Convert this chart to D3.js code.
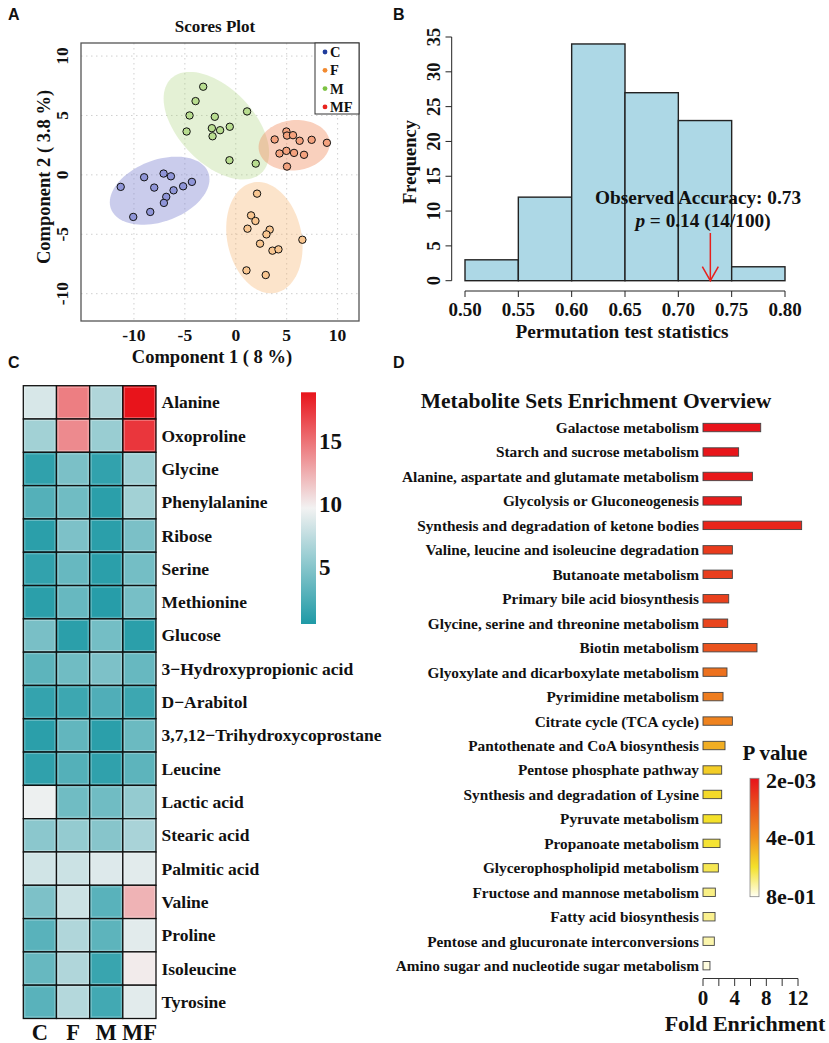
<!DOCTYPE html>
<html><head><meta charset="utf-8">
<script src="https://cdn.jsdelivr.net/npm/d3@7/dist/d3.min.js"></script>
<style>
body{margin:0;background:#fff;}
text{font-family:"Liberation Serif","Times New Roman",serif;font-weight:bold;fill:#111;}
.plab{font-family:"Liberation Sans",Arial,sans-serif;font-weight:bold;font-size:16px;}
</style></head>
<body><svg id="fig" width="829" height="1043"></svg>
<script>
// ---------- DATA ----------
const groupNames = ["C","F","M","MF"];
const pcaC = [[-11.3,-1.01],[-9.0,-0.2],[-7.09,0.11],[-6.37,-0.12],[-8.01,-1.07],[-5.17,-0.96],[-4.31,-0.59],[-6.11,-1.30],[-6.83,-1.85],[-7.06,-2.36],[-8.40,-3.12],[-10.07,-3.54]];
const pcaF = [[2.09,-1.58],[1.50,-3.41],[1.93,-3.88],[1.15,-4.53],[3.33,-4.61],[3.01,-5.01],[2.38,-5.79],[3.60,-6.38],[4.19,-6.27],[6.54,-5.46],[1.05,-8.04],[2.94,-8.43]];
const pcaM = [[-3.2,7.42],[-3.95,6.21],[-4.54,5.0],[-2.06,4.89],[1.11,5.34],[-4.83,3.65],[-2.35,3.93],[-1.54,3.76],[-0.59,4.05],[-2.28,3.25],[-0.62,1.23],[1.96,0.95]];
const pcaMF = [[3.82,2.98],[4.97,3.65],[5.03,3.31],[5.62,3.34],[6.27,2.87],[7.45,2.95],[8.95,2.70],[4.29,1.80],[4.97,2.02],[5.72,1.85],[6.70,1.69],[5.03,0.70]];
const pcaTicks = [-10,-5,0,5,10];

const histBreaks = [0.50,0.55,0.60,0.65,0.70,0.75,0.80];
const histCounts = [3,12,34,27,23,2];
const histYTicks = [0,5,10,15,20,25,30,35];
const observedAccuracy = 0.73;

const heatCols = ["C","F","M","MF"];
const heatRows = ["Alanine","Oxoproline","Glycine","Phenylalanine","Ribose","Serine","Methionine","Glucose","3\u2212Hydroxypropionic acid","D\u2212Arabitol","3,7,12\u2212Trihydroxycoprostane","Leucine","Lactic acid","Stearic acid","Palmitic acid","Valine","Proline","Isoleucine","Tyrosine"];
const heatValues = [
 [8.5,14.5,6.8,18.9],[6.2,14.0,5.8,17.5],[1.2,4.5,1.3,6.0],[2.8,4.0,1.0,6.2],[1.0,4.6,1.0,4.5],
 [1.3,3.6,1.0,4.2],[1.0,3.6,0.8,4.3],[4.4,1.0,4.2,1.0],[3.2,4.0,4.6,3.6],[1.4,1.8,2.6,1.8],
 [1.0,3.4,1.0,3.8],[1.2,2.8,1.2,3.2],[9.5,4.0,4.0,5.6],[5.2,5.6,5.0,6.5],[8.2,8.0,8.8,9.0],
 [4.6,8.0,3.0,12.3],[3.0,6.8,3.2,9.0],[3.6,6.8,1.6,10.0],[3.0,7.0,2.0,9.0]];
const heatTicks = [5,10,15];

const pathways = ["Galactose metabolism","Starch and sucrose metabolism","Alanine, aspartate and glutamate metabolism","Glycolysis or Gluconeogenesis","Synthesis and degradation of ketone bodies","Valine, leucine and isoleucine degradation","Butanoate metabolism","Primary bile acid biosynthesis","Glycine, serine and threonine metabolism","Biotin metabolism","Glyoxylate and dicarboxylate metabolism","Pyrimidine metabolism","Citrate cycle (TCA cycle)","Pantothenate and CoA biosynthesis","Pentose phosphate pathway","Synthesis and degradation of Lysine","Pyruvate metabolism","Propanoate metabolism","Glycerophospholipid metabolism","Fructose and mannose metabolism","Fatty acid biosynthesis","Pentose and glucuronate interconversions","Amino sugar and nucleotide sugar metabolism"];
const foldEnrichment = [7.29,4.5,6.24,4.85,12.46,3.71,3.71,3.25,3.12,6.82,3.03,2.53,3.71,2.78,2.36,2.36,2.36,2.15,1.94,1.56,1.52,1.43,0.88];
const pValues = [0.004,0.01,0.02,0.03,0.06,0.12,0.13,0.14,0.15,0.19,0.29,0.33,0.35,0.47,0.55,0.58,0.6,0.61,0.64,0.69,0.7,0.73,0.78];
const enrichTicks = [0,2,4,6,8,10,12];
const enrichTickLabels = [0,4,8,12];
const pLegendTicks = [[0.002,"2e-03"],[0.4,"4e-01"],[0.8,"8e-01"]];

// ---------- DRAW ----------
const svg = d3.select("#fig");
const defs = svg.append("defs");

[["A",8,20],["B",393,20],["C",8,368],["D",393,368]].forEach(([t,x,y])=>svg.append("text").attr("class","plab").attr("x",x).attr("y",y).text(t));

// ===== Panel A =====
(function(){
  const x = d3.scaleLinear().domain([-15.2,12.1]).range([81,359]);
  const y = d3.scaleLinear().domain([-12.3,11.1]).range([321,43]);
  const g = svg.append("g");
  defs.append("clipPath").attr("id","clipA").append("rect").attr("x",81).attr("y",43).attr("width",278).attr("height",278);
  pcaTicks.forEach(t=>{
    g.append("line").attr("x1",x(t)).attr("x2",x(t)).attr("y1",43).attr("y2",321).attr("stroke","#cfcfcf").attr("stroke-dasharray","1.5,3.5");
    g.append("line").attr("y1",y(t)).attr("y2",y(t)).attr("x1",81).attr("x2",359).attr("stroke","#cfcfcf").attr("stroke-dasharray","1.5,3.5");
  });
  const groups = [
    {pts:pcaC, base:"#7a80cf", op:0.4, pt:"#8f95d8", leg:"#1f3c9c"},
    {pts:pcaF, base:"#f7b36b", op:0.35, pt:"#f9c690", leg:"#f28a30"},
    {pts:pcaM, base:"#a5d273", op:0.3, pt:"#b8dd8f", leg:"#7cc242"},
    {pts:pcaMF, base:"#ef8a5a", op:0.4, pt:"#f4a27e", leg:"#e8241f"}
  ];
  const tval = Math.sqrt(5.991);
  const eg = g.append("g").attr("clip-path","url(#clipA)");
  groups.forEach(gr=>{
    const n = gr.pts.length;
    const mx = d3.mean(gr.pts,d=>d[0]), my = d3.mean(gr.pts,d=>d[1]);
    let sxx=0,syy=0,sxy=0;
    gr.pts.forEach(([a,b])=>{sxx+=(a-mx)**2;syy+=(b-my)**2;sxy+=(a-mx)*(b-my);});
    sxx/=n-1;syy/=n-1;sxy/=n-1;
    const tr=sxx+syy, det=sxx*syy-sxy*sxy;
    const l1=tr/2+Math.sqrt(tr*tr/4-det), l2=tr/2-Math.sqrt(tr*tr/4-det);
    const ang=Math.atan2(l1-sxx,sxy);
    const v1=[Math.cos(ang),Math.sin(ang)], v2=[-Math.sin(ang),Math.cos(ang)];
    const poly=d3.range(0,361,4).map(deg=>{
      const th=deg*Math.PI/180;
      const a=tval*Math.sqrt(l1)*Math.cos(th), b=tval*Math.sqrt(l2)*Math.sin(th);
      return [x(mx+a*v1[0]+b*v2[0]), y(my+a*v1[1]+b*v2[1])];
    });
    eg.append("path").attr("d",d3.line()(poly)+"Z").attr("fill",gr.base).attr("fill-opacity",gr.op).attr("stroke","none");
  });
  groups.forEach(gr=>{
    g.selectAll(null).data(gr.pts).enter().append("circle")
      .attr("cx",d=>x(d[0])).attr("cy",d=>y(d[1])).attr("r",3.7)
      .attr("fill",gr.pt).attr("stroke","#111").attr("stroke-width",1);
  });
  g.append("rect").attr("x",81).attr("y",43).attr("width",278).attr("height",278).attr("fill","none").attr("stroke","#555").attr("stroke-width",1.3);
  pcaTicks.forEach(t=>{
    g.append("text").attr("x",x(t)).attr("y",335).attr("text-anchor","middle").attr("dominant-baseline","central").style("font-size","17.5px").text(t);
    g.append("text").attr("transform",`translate(62,${y(t)}) rotate(-90)`).attr("text-anchor","middle").attr("dominant-baseline","central").style("font-size","17.5px").text(t);
  });
  g.append("text").attr("x",212).attr("y",357).attr("text-anchor","middle").attr("dominant-baseline","central").style("font-size","18.5px").text("Component 1 ( 8 %)");
  g.append("text").attr("transform","translate(44,177) rotate(-90)").attr("text-anchor","middle").attr("dominant-baseline","central").style("font-size","18.5px").text("Component 2 ( 3.8 %)");
  g.append("text").attr("x",215).attr("y",26).attr("text-anchor","middle").attr("dominant-baseline","central").style("font-size","17px").text("Scores Plot");
  g.append("rect").attr("x",315).attr("y",43).attr("width",44).attr("height",71).attr("fill","#fff").attr("stroke","#333").attr("stroke-width",1);
  groupNames.forEach((nm,i)=>{
    const yy=52+i*18.3;
    g.append("circle").attr("cx",325).attr("cy",yy).attr("r",2.4).attr("fill",groups[i].leg);
    g.append("text").attr("x",330).attr("y",yy).attr("dominant-baseline","central").style("font-size","14.5px").text(nm);
  });
})();

// ===== Panel B =====
(function(){
  const x = d3.scaleLinear().domain([0.5,0.8]).range([465,785]);
  const y = d3.scaleLinear().domain([0,35]).range([280.7,37]);
  const g = svg.append("g");
  histCounts.forEach((c,i)=>{
    g.append("rect").attr("x",x(histBreaks[i])).attr("y",y(c)).attr("width",x(histBreaks[i+1])-x(histBreaks[i])).attr("height",y(0)-y(c))
     .attr("fill","#add8e6").attr("stroke","#222").attr("stroke-width",1.4);
  });
  g.append("line").attr("x1",451.7).attr("x2",451.7).attr("y1",y(0)).attr("y2",y(35)).attr("stroke","#222");
  histYTicks.forEach(t=>{
    g.append("line").attr("x1",445.5).attr("x2",451.7).attr("y1",y(t)).attr("y2",y(t)).attr("stroke","#222");
    g.append("text").attr("transform",`translate(434,${y(t)}) rotate(-90)`).attr("text-anchor","middle").attr("dominant-baseline","central").style("font-size","18.5px").text(t);
  });
  g.append("line").attr("x1",x(0.5)).attr("x2",x(0.8)).attr("y1",291).attr("y2",291).attr("stroke","#222");
  histBreaks.forEach(t=>{
    g.append("line").attr("x1",x(t)).attr("x2",x(t)).attr("y1",291).attr("y2",297).attr("stroke","#222");
    g.append("text").attr("x",x(t)).attr("y",309).attr("text-anchor","middle").attr("dominant-baseline","central").style("font-size","19px").text(d3.format(".2f")(t));
  });
  g.append("text").attr("x",622).attr("y",331).attr("text-anchor","middle").attr("dominant-baseline","central").style("font-size","19.3px").text("Permutation test statistics");
  g.append("text").attr("transform","translate(410,162) rotate(-90)").attr("text-anchor","middle").attr("dominant-baseline","central").style("font-size","18.5px").text("Frequency");
  const ax=x(observedAccuracy);
  g.append("line").attr("x1",ax).attr("x2",ax).attr("y1",233).attr("y2",y(0)).attr("stroke","#e8201c").attr("stroke-width",1.5);
  g.append("path").attr("d",`M${ax-8},266.7L${ax},${y(0)}L${ax+8},266.7`).attr("fill","none").attr("stroke","#e8201c").attr("stroke-width",1.5);
  g.append("text").attr("x",698).attr("y",197).attr("text-anchor","middle").attr("dominant-baseline","central").style("font-size","19.3px").text("Observed Accuracy: "+observedAccuracy);
  const t2=g.append("text").attr("x",703).attr("y",220).attr("text-anchor","middle").attr("dominant-baseline","central").style("font-size","19.3px");
  t2.append("tspan").style("font-style","italic").text("p");
  t2.append("tspan").text(" = 0.14 (14/100)");
})();

// ===== Panel C =====
(function(){
  const x = d3.scaleBand().domain(heatCols).range([23.3,156]);
  const y = d3.scaleBand().domain(heatRows).range([385.7,1018.5]);
  const col = d3.scaleLinear().domain([0.47,9.7,18.9]).range(["#1f9aa6","#f2f2f2","#e8141b"]);
  const g = svg.append("g");
  heatRows.forEach((r,i)=>{
    heatCols.forEach((c,j)=>{
      g.append("rect").attr("x",x(c)).attr("y",y(r)).attr("width",x.bandwidth()).attr("height",y.bandwidth())
       .attr("fill",col(heatValues[i][j])).attr("stroke","#111").attr("stroke-width",1.3);
      g.append("rect").attr("x",x(c)+1.6).attr("y",y(r)+1.6).attr("width",x.bandwidth()-3.2).attr("height",y.bandwidth()-3.2)
       .attr("fill","none").attr("stroke","#ffffff").attr("stroke-opacity",0.35).attr("stroke-width",0.8);
    });
    g.append("text").attr("x",161.5).attr("y",y(r)+y.bandwidth()/2).attr("dominant-baseline","central").style("font-size","17.5px").text(r);
  });
  heatCols.forEach(c=>{
    g.append("text").attr("x",x(c)+x.bandwidth()/2).attr("y",1032).attr("text-anchor","middle").attr("dominant-baseline","central").style("font-size","22.5px").text(c);
  });
  const cb = d3.scaleLinear().domain([0.47,18.9]).range([624,392.3]);
  const grad = defs.append("linearGradient").attr("id","gradC").attr("x1",0).attr("x2",0).attr("y1",1).attr("y2",0);
  d3.range(0,1.0001,0.05).forEach(t=>{grad.append("stop").attr("offset",t).attr("stop-color",col(0.47+t*(18.9-0.47)));});
  g.append("rect").attr("x",301).attr("y",392.3).attr("width",15).attr("height",624-392.3).attr("fill","url(#gradC)");
  heatTicks.forEach(t=>{
    g.append("text").attr("x",319).attr("y",cb(t)).attr("dominant-baseline","central").style("font-size","23px").text(t);
  });
})();

// ===== Panel D =====
(function(){
  const x = d3.scaleLinear().domain([0,12]).range([703,798]);
  const y = d3.scaleBand().domain(pathways).range([415.3,977.9]);
  const pcol = d3.scaleLinear().domain([0.002,0.2,0.4,0.6,0.8]).range(["#e8121a","#ea561e","#f0921f","#f4e12a","#fffff2"]);
  const g = svg.append("g");
  g.append("text").attr("x",596).attr("y",401).attr("text-anchor","middle").attr("dominant-baseline","central").style("font-size","21.5px").text("Metabolite Sets Enrichment Overview");
  pathways.forEach((p,i)=>{
    const cy=y(p)+y.bandwidth()/2;
    g.append("rect").attr("x",x(0)).attr("y",cy-4.2).attr("width",x(foldEnrichment[i])-x(0)).attr("height",8.4)
     .attr("fill",pcol(pValues[i])).attr("stroke","#444").attr("stroke-width",0.9);
    g.append("text").attr("x",699).attr("y",cy).attr("text-anchor","end").attr("dominant-baseline","central").style("font-size","15.3px").text(p);
  });
  g.append("line").attr("x1",x(0)).attr("x2",x(12)).attr("y1",978.5).attr("y2",978.5).attr("stroke","#333");
  enrichTicks.forEach(t=>g.append("line").attr("x1",x(t)).attr("x2",x(t)).attr("y1",978.5).attr("y2",986).attr("stroke","#333"));
  enrichTickLabels.forEach(t=>g.append("text").attr("x",x(t)).attr("y",998).attr("text-anchor","middle").attr("dominant-baseline","central").style("font-size","21px").text(t));
  g.append("text").attr("x",745).attr("y",1023).attr("text-anchor","middle").attr("dominant-baseline","central").style("font-size","22px").text("Fold Enrichment");
  const py = d3.scaleLinear().domain([0.002,0.8]).range([778.3,896.7]);
  const grad = defs.append("linearGradient").attr("id","gradD").attr("x1",0).attr("x2",0).attr("y1",0).attr("y2",1);
  d3.range(0,1.0001,0.05).forEach(t=>{grad.append("stop").attr("offset",t).attr("stop-color",pcol(0.002+t*0.798));});
  g.append("rect").attr("x",750).attr("y",778.3).attr("width",9).attr("height",896.7-778.3).attr("fill","url(#gradD)").attr("stroke","#888").attr("stroke-width",0.8);
  pLegendTicks.forEach(([v,l])=>g.append("text").attr("x",766).attr("y",py(v)+(v<0.01?2:0)).attr("dominant-baseline","central").style("font-size","22px").text(l));
  g.append("text").attr("x",775).attr("y",753).attr("text-anchor","middle").attr("dominant-baseline","central").style("font-size","21px").text("P value");
})();
</script></body></html>
